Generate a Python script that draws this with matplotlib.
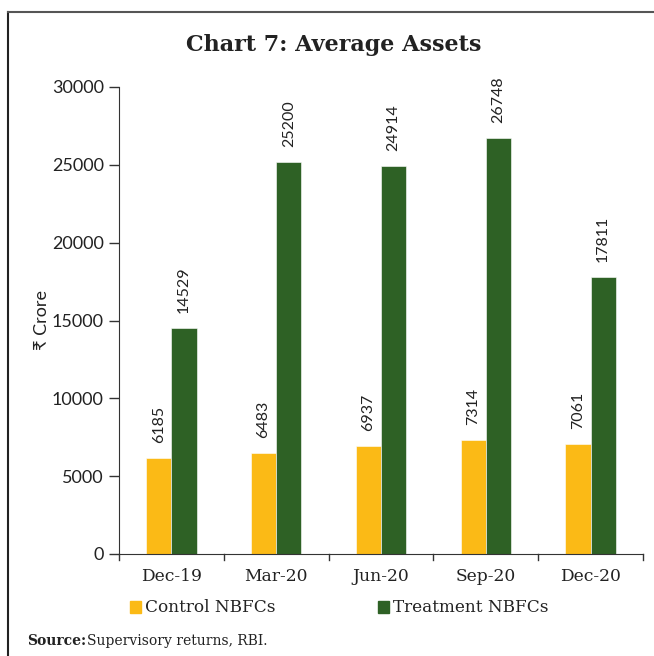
import matplotlib
matplotlib.use("Agg")
import matplotlib.pyplot as plt
import numpy as np
from matplotlib.lines import Line2D
from matplotlib.patches import Rectangle

# data
categories = ["Dec-19", "Mar-20", "Jun-20", "Sep-20", "Dec-20"]
control = [6185, 6483, 6937, 7314, 7061]
treatment = [14529, 25200, 24914, 26748, 17811]
yticks = [0, 5000, 10000, 15000, 20000, 25000, 30000]

yellow = "#FBBA16"
green = "#2E6125"
serif = "DejaVu Serif"
sans = ["Lato", "DejaVu Sans"]
ink = "#222222"

W, H = 654, 656
fig = plt.figure(figsize=(W / 100, H / 100), dpi=100)
ax = fig.add_axes([119 / W, 1 - 554 / H, (643 - 119) / W, (554 - 87) / H])

x = np.arange(len(categories))
bw = 0.24
ax.bar(x - bw / 2, control, bw, color=yellow, edgecolor="white", linewidth=0.4)
ax.bar(x + bw / 2, treatment, bw, color=green, edgecolor="white", linewidth=0.4)

# value labels
for xi, v in zip(x - bw / 2, control):
    ax.text(xi, v + 950, str(v), rotation=90, ha="center", va="bottom",
            fontsize=11.5, family=sans, color=ink)
for xi, v in zip(x + bw / 2, treatment):
    ax.text(xi, v + 950, str(v), rotation=90, ha="center", va="bottom",
            fontsize=11.5, family=sans, color=ink)

ax.set_xlim(-0.5, len(categories) - 0.5)
ax.set_ylim(0, 30000)
ax.set_yticks(yticks)
ax.set_yticklabels([str(t) for t in yticks], family=sans, fontsize=13, color=ink)
ax.set_xticks(x)
ax.set_xticklabels(categories, family=serif, fontsize=12.3, color=ink)
ax.tick_params(axis="x", length=0, pad=10)
ax.tick_params(axis="y", length=7, width=1, color="#333333", pad=4)
# boundary ticks between categories
for b in np.arange(len(categories) + 1) - 0.5:
    ax.plot([b, b], [0, -380], color="#333333", lw=1, clip_on=False)

for s in ["top", "right"]:
    ax.spines[s].set_visible(False)
ax.spines["left"].set_color("#333333")
ax.spines["bottom"].set_color("#333333")
ax.set_ylabel("₹ Crore", family=sans, fontsize=13, color=ink, labelpad=1)

fig.text(334 / W, 1 - 45 / H, "Chart 7: Average Assets", ha="center", va="center",
         family=serif, fontsize=16, fontweight="bold", color=ink)

# legend
fig.patches.append(Rectangle((130 / W, 1 - 613 / H), 11 / W, 12 / H,
                             transform=fig.transFigure, color=yellow))
fig.text(145 / W, 1 - 608 / H, "Control NBFCs", va="center", family=serif,
         fontsize=12.2, color=ink)
fig.patches.append(Rectangle((378 / W, 1 - 613 / H), 11 / W, 12 / H,
                             transform=fig.transFigure, color=green))
fig.text(393 / W, 1 - 608 / H, "Treatment NBFCs", va="center", family=serif,
         fontsize=12.2, color=ink)

# source
src = fig.text(27 / W, 1 - 641 / H, "Source:", va="center", family=serif,
               fontsize=10, fontweight="bold", color=ink)
fig.text(87 / W, 1 - 641 / H, "Supervisory returns, RBI.", va="center",
         family=serif, fontsize=10, color=ink)

# frame
fig.add_artist(Line2D([8 / W, 8 / W], [0, 1 - 12 / H], color=ink, lw=1.5))
fig.add_artist(Line2D([8 / W, 1], [1 - 12 / H, 1 - 12 / H], color="#555555", lw=1.5))

fig.savefig("out.png", dpi=100)
